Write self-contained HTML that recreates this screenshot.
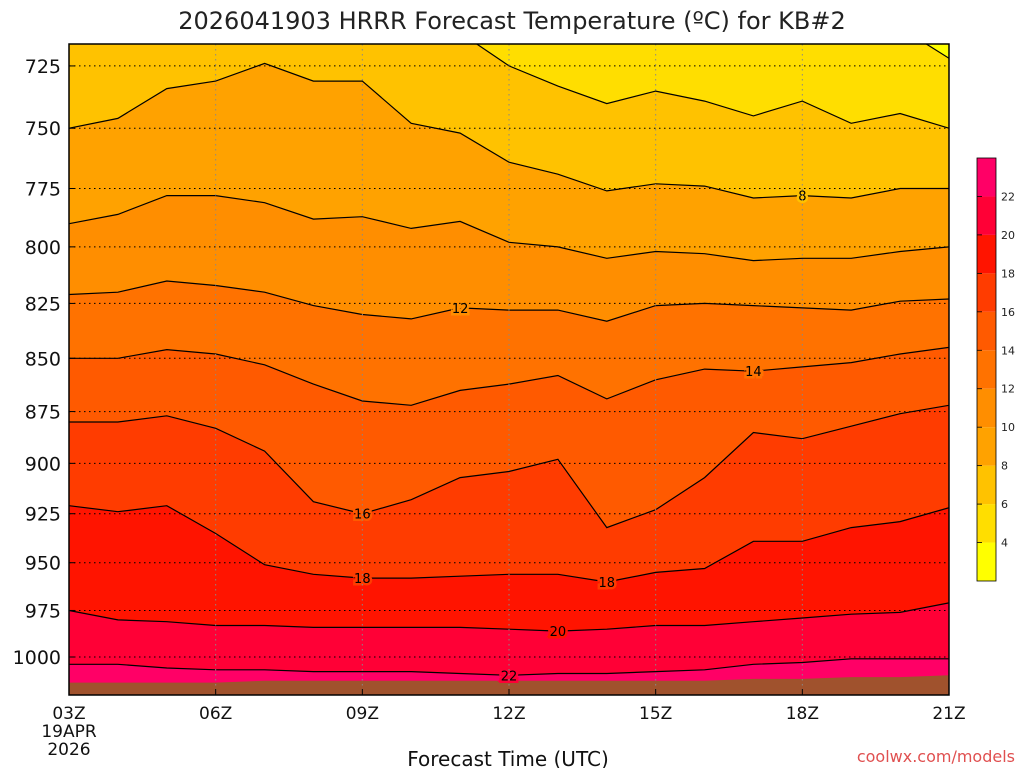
<!DOCTYPE html>
<html><head><meta charset="utf-8"><style>
body{margin:0;background:#fff;width:1024px;height:768px;overflow:hidden;font-family:"Liberation Sans","DejaVu Sans",sans-serif}
svg{display:block}
</style></head><body>
<svg id="c" width="1024" height="768" xmlns="http://www.w3.org/2000/svg">
<text x="512" y="29" text-anchor="middle" font-size="24" font-family="DejaVu Sans, sans-serif" fill="#222">2026041903 HRRR Forecast Temperature (ºC) for KB#2</text>
<g id="plot"></g>
<text x="508" y="766" text-anchor="middle" font-size="20" font-family="DejaVu Sans, sans-serif" fill="#111">Forecast Time (UTC)</text>
<text x="1015" y="762" text-anchor="end" font-size="16" font-family="DejaVu Sans, sans-serif" fill="#e05050">coolwx.com/models</text>
</svg>
<script>
const hours=[3,4,5,6,7,8,9,10,11,12,13,14,15,16,17,18,19,20,21];
const levels=[4,6,8,10,12,14,16,18,20,22];
const iso4=[690,690,690,690,690,690,690,690,690,690,690,690,690,690,690,690,690,710,722];
const iso6=[700,700,700,700,700,700,700,700,712,725,733,740,735,739,745,739,748,744,750];
const iso8=[750,746,734,731,724,731,731,748,752,764,769,776,773,774,779,778,779,775,775];
const iso10=[790,786,778,778,781,788,787,792,789,798,800,805,802,803,806,805,805,802,800];
const iso12=[821,820,815,817,820,826,830,832,827,828,828,833,826,825,826,827,828,824,823];
const iso14=[850,850,846,848,853,862,870,872,865,862,858,869,860,855,856,854,852,848,845];
const iso16=[880,880,877,883,894,919,925,918,907,904,898,932,923,907,885,888,882,876,872];
const iso18=[921,924,921,935,951,956,958,958,957,956,956,960,955,953,939,939,932,929,922];
const iso20=[975,980,981,983,983,984,984,984,984,985,986,985,983,983,981,979,977,976,971];
const iso22=[1004,1004,1006,1007,1007,1008,1008,1008,1009,1010,1009,1009,1008,1007,1004,1003,1001,1001,1001];
const surface=[1014,1014,1014,1014,1013,1013,1013,1013,1013,1013,1013,1013,1013,1013,1012,1012,1011,1011,1010];
const pTicks=[725,750,775,800,825,850,875,900,925,950,975,1000];
const xTickHours=[3,6,9,12,15,18,21];
const xTickLabels=["03Z","06Z","09Z","12Z","15Z","18Z","21Z"];
const cbarLevels=[2,4,6,8,10,12,14,16,18,20,22,24];
const bandColors=["#ffff00","#ffde00","#ffc200","#ffa200","#ff8e00","#ff7200","#ff5a00","#ff3c00","#ff1400","#ff0036","#ff0066"];
const contourLabels=[[8,18],[12,11],[14,17],[16,9],[18,9],[18,14],[20,13],[22,12]];
const isos=[iso4,iso6,iso8,iso10,iso12,iso14,iso16,iso18,iso20,iso22];

const X0=69,X1=949,Y0=44,Y1=695;
const x=h=>X0+(h-3)/(21-3)*(X1-X0);
const y=p=>657+1838*Math.log(p/1000);
const NS="http://www.w3.org/2000/svg";
const plot=document.getElementById('plot');
const svg=document.getElementById('c');
function mk(tag,attrs,parent){const e=document.createElementNS(NS,tag);for(const k in attrs)e.setAttribute(k,attrs[k]);(parent||plot).appendChild(e);return e;}
const defs=mk('defs',{},svg);
const cp=mk('clipPath',{id:'clip'},defs);
mk('rect',{x:X0,y:Y0,width:X1-X0,height:Y1-Y0},cp);
const g=mk('g',{'clip-path':'url(#clip)'});


const bg=mk('rect',{x:X0,y:Y0,width:X1-X0,height:Y1-Y0,fill:bandColors[10]},g);


const linePts=arr=>hours.map((h,i)=>x(h).toFixed(1)+','+y(arr[i]).toFixed(1));
for(let k=isos.length-1;k>=0;k--){
  const pts=linePts(isos[k]);
  const poly=mk('polygon',{points:pts.join(' ')+` ${X1},${Y0-50} ${X0},${Y0-50}`,fill:bandColors[k]},g);
  
  
}
for(let k=0;k<isos.length;k++){
  const pl=mk('polyline',{points:linePts(isos[k]).join(' '),fill:'none',stroke:'#000','stroke-width':1.2},g);
  
  
}
const gp=mk('polygon',{points:linePts(surface).join(' ')+` ${X1},${Y1+5} ${X0},${Y1+5}`,fill:'#a0522d'},g);


// grid
pTicks.forEach(p=>{
  const l=mk('line',{x1:X0,x2:X1,y1:y(p),y2:y(p),stroke:'#000','stroke-width':1,'stroke-dasharray':'1.5,3.5'});
  
  
  const t=mk('text',{x:X0-8,y:y(p)+7,'text-anchor':'end','font-size':19,'font-family':'DejaVu Sans, sans-serif',fill:'#111'});
  t.textContent=p;
  
  
  mk('line',{x1:X0,x2:X0+6,y1:y(p),y2:y(p),stroke:'#000'});
});
xTickHours.forEach((h,i)=>{
  if(i>0&&i<xTickHours.length-1){
    const l=mk('line',{x1:x(h),x2:x(h),y1:Y0,y2:Y1,stroke:'#888','stroke-width':1,'stroke-dasharray':'1.5,3.5'});
    
    
  }
  const t=mk('text',{x:x(h),y:719,'text-anchor':'middle','font-size':17,'font-family':'DejaVu Sans, sans-serif',fill:'#111'});
  t.textContent=xTickLabels[i];
  
  
  mk('line',{x1:x(h),x2:x(h),y1:Y1,y2:Y1-6,stroke:'#000'});
});
[["19APR",737],["2026",755]].forEach(([s,yy])=>{
  const t=mk('text',{x:X0,y:yy,'text-anchor':'middle','font-size':17,'font-family':'DejaVu Sans, sans-serif',fill:'#111'});
  t.textContent=s;
  
  
});
// contour labels
contourLabels.forEach(([lv,h])=>{
  const k=levels.indexOf(lv);const i=hours.indexOf(h);
  const t=mk('text',{x:x(h),y:y(isos[k][i])+5,'text-anchor':'middle','font-size':13,'font-family':'DejaVu Sans, sans-serif',fill:'#000',stroke:bandColors[k],'stroke-width':5,'paint-order':'stroke'},g);
  t.textContent=lv;
  
  
});
const fr=mk('rect',{x:X0,y:Y0,width:X1-X0,height:Y1-Y0,fill:'none',stroke:'#000','stroke-width':1.5});


// colorbar
const CB0=581,CB1=158,cbx=977,cbw=19;
const cy=v=>CB0+(v-2)/(24-2)*(CB1-CB0);
const cb=mk('g',{},svg);


for(let i=0;i<cbarLevels.length-1;i++){
  const r=mk('rect',{x:cbx,y:cy(cbarLevels[i+1]),width:cbw,height:cy(cbarLevels[i])-cy(cbarLevels[i+1]),fill:bandColors[i]},cb);
  
  
  if(i>0){
    mk('line',{x1:cbx,x2:cbx+5,y1:cy(cbarLevels[i]),y2:cy(cbarLevels[i]),stroke:'#000','stroke-width':0.8},cb);
    const t=mk('text',{x:1001,y:cy(cbarLevels[i])+4,'font-size':11,'font-family':'DejaVu Sans, sans-serif',fill:'#222'},cb);
    t.textContent=cbarLevels[i];
    
    
  }
}
mk('rect',{x:cbx,y:CB1,width:cbw,height:CB0-CB1,fill:'none',stroke:'#000','stroke-width':0.8},cb);
</script>
</body></html>
